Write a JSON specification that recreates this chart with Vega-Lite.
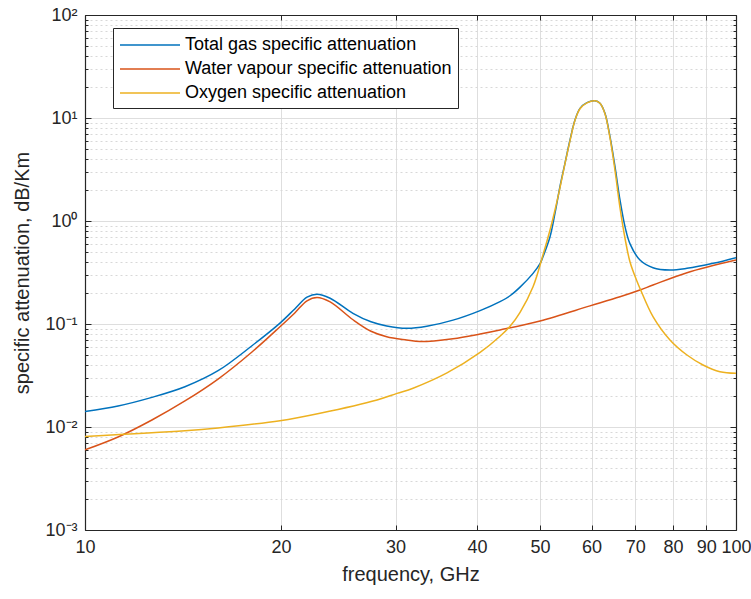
{
  "$schema": "https://vega.github.io/schema/vega-lite/v6.json",
  "width": 651,
  "height": 515,
  "autosize": {"type": "none"},
  "padding": {"left": 85, "top": 15, "right": 15, "bottom": 69},
  "config": {
    "font": "Liberation Sans",
    "view": {"stroke": "#262626", "strokeWidth": 1},
    "axis": {"domainColor": "#262626", "domainWidth": 1.2, "tickColor": "#262626", "labelColor": "#262626", "titleColor": "#262626", "titleFontWeight": "normal", "labelFont": "Liberation Sans", "titleFont": "Liberation Sans"}
  },
  "data": {"values": [
    {"f": 10, "a": 0.0141, "s": "Total gas specific attenuation"},
    {"f": 11.24, "a": 0.016, "s": "Total gas specific attenuation"},
    {"f": 12.67, "a": 0.0194, "s": "Total gas specific attenuation"},
    {"f": 14.24, "a": 0.0246, "s": "Total gas specific attenuation"},
    {"f": 16.01, "a": 0.0352, "s": "Total gas specific attenuation"},
    {"f": 18.05, "a": 0.0615, "s": "Total gas specific attenuation"},
    {"f": 19.93, "a": 0.102, "s": "Total gas specific attenuation"},
    {"f": 21.0, "a": 0.14, "s": "Total gas specific attenuation"},
    {"f": 21.93, "a": 0.182, "s": "Total gas specific attenuation"},
    {"f": 22.72, "a": 0.195, "s": "Total gas specific attenuation"},
    {"f": 23.8, "a": 0.178, "s": "Total gas specific attenuation"},
    {"f": 25.8, "a": 0.127, "s": "Total gas specific attenuation"},
    {"f": 27.5, "a": 0.105, "s": "Total gas specific attenuation"},
    {"f": 29.07, "a": 0.0957, "s": "Total gas specific attenuation"},
    {"f": 31.2, "a": 0.0908, "s": "Total gas specific attenuation"},
    {"f": 33.5, "a": 0.095, "s": "Total gas specific attenuation"},
    {"f": 36.75, "a": 0.109, "s": "Total gas specific attenuation"},
    {"f": 40.45, "a": 0.135, "s": "Total gas specific attenuation"},
    {"f": 43.4, "a": 0.165, "s": "Total gas specific attenuation"},
    {"f": 44.97, "a": 0.188, "s": "Total gas specific attenuation"},
    {"f": 46.59, "a": 0.228, "s": "Total gas specific attenuation"},
    {"f": 48.78, "a": 0.31, "s": "Total gas specific attenuation"},
    {"f": 50.0, "a": 0.385, "s": "Total gas specific attenuation"},
    {"f": 50.53, "a": 0.451, "s": "Total gas specific attenuation"},
    {"f": 51.8, "a": 0.704, "s": "Total gas specific attenuation"},
    {"f": 52.72, "a": 1.19, "s": "Total gas specific attenuation"},
    {"f": 53.65, "a": 2.15, "s": "Total gas specific attenuation"},
    {"f": 54.61, "a": 3.63, "s": "Total gas specific attenuation"},
    {"f": 55.59, "a": 6.11, "s": "Total gas specific attenuation"},
    {"f": 56.58, "a": 9.56, "s": "Total gas specific attenuation"},
    {"f": 57.59, "a": 12.4, "s": "Total gas specific attenuation"},
    {"f": 59.02, "a": 14.1, "s": "Total gas specific attenuation"},
    {"f": 60.72, "a": 14.7, "s": "Total gas specific attenuation"},
    {"f": 61.81, "a": 13.9, "s": "Total gas specific attenuation"},
    {"f": 62.91, "a": 11.1, "s": "Total gas specific attenuation"},
    {"f": 64.04, "a": 6.59, "s": "Total gas specific attenuation"},
    {"f": 65.18, "a": 3.37, "s": "Total gas specific attenuation"},
    {"f": 66.34, "a": 1.6, "s": "Total gas specific attenuation"},
    {"f": 67.53, "a": 0.881, "s": "Total gas specific attenuation"},
    {"f": 68.74, "a": 0.6, "s": "Total gas specific attenuation"},
    {"f": 71.2, "a": 0.418, "s": "Total gas specific attenuation"},
    {"f": 74.56, "a": 0.352, "s": "Total gas specific attenuation"},
    {"f": 79.17, "a": 0.334, "s": "Total gas specific attenuation"},
    {"f": 84.08, "a": 0.347, "s": "Total gas specific attenuation"},
    {"f": 92.19, "a": 0.388, "s": "Total gas specific attenuation"},
    {"f": 100, "a": 0.441, "s": "Total gas specific attenuation"},
    {"f": 10, "a": 0.006, "s": "Water vapour specific attenuation"},
    {"f": 11.24, "a": 0.008, "s": "Water vapour specific attenuation"},
    {"f": 12.67, "a": 0.0117, "s": "Water vapour specific attenuation"},
    {"f": 14.24, "a": 0.0179, "s": "Water vapour specific attenuation"},
    {"f": 16.01, "a": 0.0292, "s": "Water vapour specific attenuation"},
    {"f": 18.05, "a": 0.0535, "s": "Water vapour specific attenuation"},
    {"f": 19.93, "a": 0.094, "s": "Water vapour specific attenuation"},
    {"f": 21.0, "a": 0.128, "s": "Water vapour specific attenuation"},
    {"f": 21.93, "a": 0.168, "s": "Water vapour specific attenuation"},
    {"f": 22.72, "a": 0.181, "s": "Water vapour specific attenuation"},
    {"f": 23.8, "a": 0.164, "s": "Water vapour specific attenuation"},
    {"f": 25.8, "a": 0.11, "s": "Water vapour specific attenuation"},
    {"f": 27.5, "a": 0.085, "s": "Water vapour specific attenuation"},
    {"f": 29.07, "a": 0.0753, "s": "Water vapour specific attenuation"},
    {"f": 31.2, "a": 0.07, "s": "Water vapour specific attenuation"},
    {"f": 32.7, "a": 0.0675, "s": "Water vapour specific attenuation"},
    {"f": 36.75, "a": 0.072, "s": "Water vapour specific attenuation"},
    {"f": 40.45, "a": 0.08, "s": "Water vapour specific attenuation"},
    {"f": 43.4, "a": 0.0875, "s": "Water vapour specific attenuation"},
    {"f": 50, "a": 0.107, "s": "Water vapour specific attenuation"},
    {"f": 59.66, "a": 0.15, "s": "Water vapour specific attenuation"},
    {"f": 66.34, "a": 0.184, "s": "Water vapour specific attenuation"},
    {"f": 71.2, "a": 0.214, "s": "Water vapour specific attenuation"},
    {"f": 74.56, "a": 0.239, "s": "Water vapour specific attenuation"},
    {"f": 84.08, "a": 0.315, "s": "Water vapour specific attenuation"},
    {"f": 100, "a": 0.418, "s": "Water vapour specific attenuation"},
    {"f": 10, "a": 0.0081, "s": "Oxygen specific attenuation"},
    {"f": 14.24, "a": 0.0092, "s": "Oxygen specific attenuation"},
    {"f": 16.01, "a": 0.0098, "s": "Oxygen specific attenuation"},
    {"f": 19.93, "a": 0.0115, "s": "Oxygen specific attenuation"},
    {"f": 22.96, "a": 0.0136, "s": "Oxygen specific attenuation"},
    {"f": 28.09, "a": 0.0183, "s": "Oxygen specific attenuation"},
    {"f": 30.15, "a": 0.0212, "s": "Oxygen specific attenuation"},
    {"f": 31.91, "a": 0.0238, "s": "Oxygen specific attenuation"},
    {"f": 35.98, "a": 0.0335, "s": "Oxygen specific attenuation"},
    {"f": 40.45, "a": 0.053, "s": "Oxygen specific attenuation"},
    {"f": 43.4, "a": 0.076, "s": "Oxygen specific attenuation"},
    {"f": 44.97, "a": 0.095, "s": "Oxygen specific attenuation"},
    {"f": 46.59, "a": 0.13, "s": "Oxygen specific attenuation"},
    {"f": 48.78, "a": 0.23, "s": "Oxygen specific attenuation"},
    {"f": 50.53, "a": 0.47, "s": "Oxygen specific attenuation"},
    {"f": 51.8, "a": 0.818, "s": "Oxygen specific attenuation"},
    {"f": 52.72, "a": 1.28, "s": "Oxygen specific attenuation"},
    {"f": 53.65, "a": 2.1, "s": "Oxygen specific attenuation"},
    {"f": 54.61, "a": 3.6, "s": "Oxygen specific attenuation"},
    {"f": 55.59, "a": 6.0, "s": "Oxygen specific attenuation"},
    {"f": 56.58, "a": 9.5, "s": "Oxygen specific attenuation"},
    {"f": 57.59, "a": 12.3, "s": "Oxygen specific attenuation"},
    {"f": 59.02, "a": 14.0, "s": "Oxygen specific attenuation"},
    {"f": 60.72, "a": 14.7, "s": "Oxygen specific attenuation"},
    {"f": 61.81, "a": 13.9, "s": "Oxygen specific attenuation"},
    {"f": 62.91, "a": 11.0, "s": "Oxygen specific attenuation"},
    {"f": 64.04, "a": 6.4, "s": "Oxygen specific attenuation"},
    {"f": 65.18, "a": 3.1, "s": "Oxygen specific attenuation"},
    {"f": 66.34, "a": 1.35, "s": "Oxygen specific attenuation"},
    {"f": 67.53, "a": 0.68, "s": "Oxygen specific attenuation"},
    {"f": 68.74, "a": 0.4, "s": "Oxygen specific attenuation"},
    {"f": 70.45, "a": 0.26, "s": "Oxygen specific attenuation"},
    {"f": 71.2, "a": 0.222, "s": "Oxygen specific attenuation"},
    {"f": 74.56, "a": 0.118, "s": "Oxygen specific attenuation"},
    {"f": 79.17, "a": 0.07, "s": "Oxygen specific attenuation"},
    {"f": 84.08, "a": 0.05, "s": "Oxygen specific attenuation"},
    {"f": 88.99, "a": 0.04, "s": "Oxygen specific attenuation"},
    {"f": 94.5, "a": 0.0344, "s": "Oxygen specific attenuation"},
    {"f": 100, "a": 0.0332, "s": "Oxygen specific attenuation"}
  ]},
  "layer": [
    {
      "mark": {"type": "line", "interpolate": "catmull-rom", "strokeWidth": 1.5, "clip": true},
      "encoding": {
        "x": {"field": "f", "type": "quantitative",
          "scale": {"type": "log", "domain": [10, 100], "nice": false},
          "axis": {"orient": "bottom", "values": [10, 20, 30, 40, 50, 60, 70, 80, 90, 100], "format": "d",
            "labelFlush": false, "labelOverlap": false, "labelFontSize": 18, "labelPadding": 13,
            "tickSize": -5, "grid": true, "gridColor": "#dedede", "gridWidth": 1,
            "title": "frequency, GHz", "titleFontSize": 20, "titlePadding": 8}},
        "y": {"field": "a", "type": "quantitative",
          "scale": {"type": "log", "domain": [0.001, 100], "nice": false},
          "axis": {"orient": "left",
            "values": [0.001, 0.002, 0.003, 0.004, 0.005, 0.006, 0.007, 0.008, 0.009, 0.01, 0.02, 0.03, 0.04, 0.05, 0.06, 0.07, 0.08, 0.09, 0.1, 0.2, 0.3, 0.4, 0.5, 0.6, 0.7, 0.8, 0.9, 1, 2, 3, 4, 5, 6, 7, 8, 9, 10, 20, 30, 40, 50, 60, 70, 80, 90, 100],
            "labelExpr": "datum.value == 0.001 ? '10⁻³' : datum.value == 0.01 ? '10⁻²' : datum.value == 0.1 ? '10⁻¹' : datum.value == 1 ? '10⁰' : datum.value == 10 ? '10¹' : datum.value == 100 ? '10²' : ''",
            "labelOverlap": false, "labelFontSize": 18, "labelPadding": 14,
            "tickSize": {"condition": {"test": "indexof([0.001, 0.01, 0.1, 1, 10, 100], datum.value) >= 0", "value": -6}, "value": -3},
            "grid": true,
            "gridColor": {"condition": {"test": "indexof([0.001, 0.01, 0.1, 1, 10, 100], datum.value) >= 0", "value": "#dedede"}, "value": "#d8d8d8"},
            "gridDash": {"condition": {"test": "indexof([0.001, 0.01, 0.1, 1, 10, 100], datum.value) >= 0", "value": []}, "value": [2, 3]},
            "title": "specific attenuation, dB/Km", "titleFontSize": 20, "titlePadding": 12}},
        "color": {"field": "s", "type": "nominal",
          "scale": {"domain": ["Total gas specific attenuation", "Water vapour specific attenuation", "Oxygen specific attenuation"], "range": ["#0072BD", "#D95319", "#EDB120"]},
          "legend": {"orient": "none", "legendX": 28, "legendY": 13, "title": null,
            "symbolType": "M-1,0H5", "symbolSize": 400, "symbolStrokeWidth": 1.5,
            "labelFontSize": 18, "labelOffset": 44, "labelLimit": 400, "labelColor": "#000000", "labelFont": "Liberation Sans",
            "strokeColor": "#262626", "fillColor": "#ffffff", "padding": 6, "rowPadding": 4}}
      }
    },
    {
      "mark": {"type": "line", "strokeOpacity": 0},
      "encoding": {
        "x": {"field": "f", "type": "quantitative",
          "scale": {"type": "log", "domain": [10, 100], "nice": false},
          "axis": {"orient": "top", "values": [10, 20, 30, 40, 50, 60, 70, 80, 90, 100], "labels": false, "grid": false, "tickSize": -5, "title": null}},
        "y": {"field": "a", "type": "quantitative",
          "scale": {"type": "log", "domain": [0.001, 100], "nice": false},
          "axis": {"orient": "right",
            "values": [0.001, 0.002, 0.003, 0.004, 0.005, 0.006, 0.007, 0.008, 0.009, 0.01, 0.02, 0.03, 0.04, 0.05, 0.06, 0.07, 0.08, 0.09, 0.1, 0.2, 0.3, 0.4, 0.5, 0.6, 0.7, 0.8, 0.9, 1, 2, 3, 4, 5, 6, 7, 8, 9, 10, 20, 30, 40, 50, 60, 70, 80, 90, 100],
            "labels": false, "grid": false, "title": null,
            "tickSize": {"condition": {"test": "indexof([0.001, 0.01, 0.1, 1, 10, 100], datum.value) >= 0", "value": -6}, "value": -3}}}
      }
    }
  ],
  "resolve": {"axis": {"x": "independent", "y": "independent"}}
}
